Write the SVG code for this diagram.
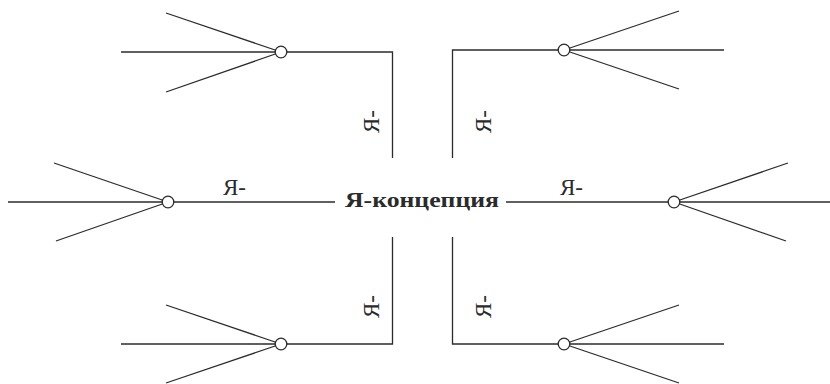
<svg xmlns="http://www.w3.org/2000/svg" width="830" height="384" viewBox="0 0 830 384">
<style>
.ln{stroke:#2b2b2b;stroke-width:1.3;fill:none}
.nd{stroke:#2b2b2b;stroke-width:1.3;fill:#fff}
.lb{font-family:"Liberation Serif","Times New Roman","DejaVu Serif",serif;font-size:23px;fill:#2b2b2b}
.ct{font-family:"Liberation Serif","Times New Roman","DejaVu Serif",serif;font-size:22px;font-weight:bold;fill:#2b2b2b}
</style>
<rect width="830" height="384" fill="#fff"/>
<g id="connectors">
<polyline class="ln" points="281,52 392.5,52 392.5,158"/>
<polyline class="ln" points="564,50 452.5,50 452.5,158"/>
<polyline class="ln" points="281,344 392.5,344 392.5,237"/>
<polyline class="ln" points="564,344 452.5,344 452.5,237"/>
<line class="ln" x1="168" y1="202" x2="335" y2="202"/>
<line class="ln" x1="506" y1="202" x2="674" y2="202"/>
</g>
<g id="fan-top-left">
<line class="ln" x1="121" y1="52" x2="281" y2="52"/>
<line class="ln" x1="166" y1="13" x2="281" y2="52"/>
<line class="ln" x1="166" y1="92" x2="281" y2="52"/>
<circle class="nd" cx="281" cy="52" r="5.8"/>
</g>
<g id="fan-top-right">
<line class="ln" x1="564" y1="50" x2="724" y2="50"/>
<line class="ln" x1="679" y1="11" x2="564" y2="50"/>
<line class="ln" x1="679" y1="89" x2="564" y2="50"/>
<circle class="nd" cx="564" cy="50" r="5.8"/>
</g>
<g id="fan-mid-left">
<line class="ln" x1="8" y1="202" x2="168" y2="202"/>
<line class="ln" x1="54" y1="163" x2="168" y2="202"/>
<line class="ln" x1="56" y1="241" x2="168" y2="202"/>
<circle class="nd" cx="168" cy="202" r="5.8"/>
</g>
<g id="fan-mid-right">
<line class="ln" x1="674" y1="202" x2="830" y2="202"/>
<line class="ln" x1="788" y1="163" x2="674" y2="202"/>
<line class="ln" x1="786" y1="241" x2="674" y2="202"/>
<circle class="nd" cx="674" cy="202" r="5.8"/>
</g>
<g id="fan-bottom-left">
<line class="ln" x1="121" y1="344" x2="281" y2="344"/>
<line class="ln" x1="166" y1="305" x2="281" y2="344"/>
<line class="ln" x1="166" y1="383" x2="281" y2="344"/>
<circle class="nd" cx="281" cy="344" r="5.8"/>
</g>
<g id="fan-bottom-right">
<line class="ln" x1="564" y1="344" x2="724" y2="344"/>
<line class="ln" x1="679" y1="305" x2="564" y2="344"/>
<line class="ln" x1="679" y1="383" x2="564" y2="344"/>
<circle class="nd" cx="564" cy="344" r="5.8"/>
</g>
<g id="center">
<text class="ct" x="345" y="207" textLength="154" lengthAdjust="spacingAndGlyphs">Я-концепция</text>
</g>
<g id="labels">
<text class="lb" x="223" y="195">Я-</text>
<text class="lb" x="560" y="195">Я-</text>
<text class="lb" transform="translate(379,133) rotate(-90)">Я-</text>
<text class="lb" transform="translate(491,133) rotate(-90)">Я-</text>
<text class="lb" transform="translate(379,318) rotate(-90)">Я-</text>
<text class="lb" transform="translate(491,318) rotate(-90)">Я-</text>
</g>
</svg>
